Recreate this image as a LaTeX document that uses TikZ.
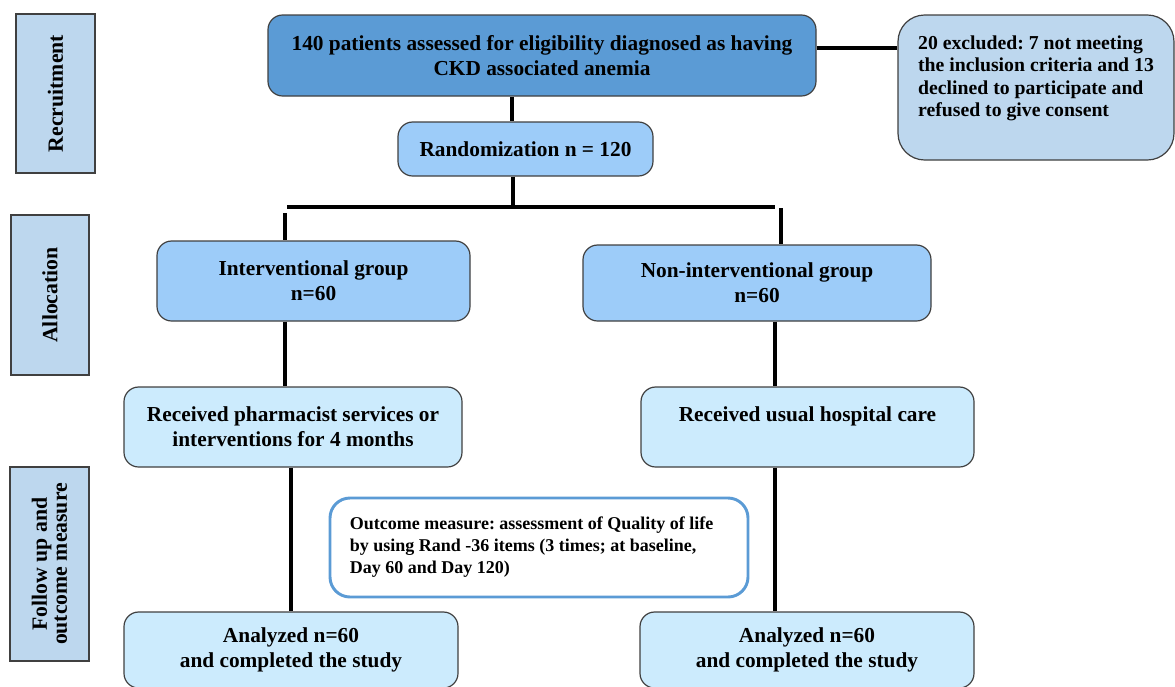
\documentclass[tikz,border=0pt]{standalone}
\usepackage{fontspec}
\setmainfont{Liberation Serif}
\usetikzlibrary{positioning}
\frenchspacing

\definecolor{phasefill}{HTML}{BDD7EE}
\definecolor{headfill}{HTML}{5B9BD5}
\definecolor{groupfill}{HTML}{9DCCF9}
\definecolor{carefill}{HTML}{CCEBFD}
\definecolor{edgegray}{HTML}{404040}
\definecolor{outline}{HTML}{5B9BD5}

\begin{document}
\begin{tikzpicture}[
    x=0.75pt, y=-0.75pt,
    phase/.style={rectangle, draw=edgegray, line width=0.9pt, fill=phasefill, rotate=90, align=center, font=\fontsize{16.3}{15}\selectfont\bfseries},
    headbox/.style={rectangle, draw=edgegray, line width=0.9pt, fill=headfill, rounded corners=11pt, align=center, font=\fontsize{16}{18.75}\selectfont\bfseries},
    exclbox/.style={rectangle, draw=edgegray, line width=0.9pt, fill=phasefill, rounded corners=20pt, align=left, font=\fontsize{14.8}{16.9}\selectfont\bfseries},
    groupbox/.style={rectangle, draw=edgegray, line width=0.9pt, fill=groupfill, rounded corners=11pt, align=center, font=\fontsize{16}{18.75}\selectfont\bfseries},
    carebox/.style={rectangle, draw=edgegray, line width=0.9pt, fill=carefill, rounded corners=11pt, align=center, font=\fontsize{16}{18.75}\selectfont\bfseries},
    outbox/.style={rectangle, draw=outline, line width=2.2pt, fill=white, rounded corners=15pt, align=left, font=\fontsize{13.5}{16.5}\selectfont\bfseries},
    link/.style={line width=2.5pt, black}
]

\clip (0,0) rectangle (1175,686);

% Phase labels
\node[phase, minimum width=119.25pt, minimum height=59.25pt] (recruit) at (55.5,93.5) {Recruitment};
\node[phase, minimum width=120pt, minimum height=58.5pt] (alloc) at (50,295) {Allocation};
\node[phase, minimum width=145.5pt, minimum height=59.25pt] (follow) at (49.5,564) {Follow up and\\outcome measure};

% Recruitment
\node[headbox, minimum width=411pt, minimum height=60.75pt] (assess) at (542,55.5) {140 patients assessed for eligibility diagnosed as having\\CKD associated anemia};
\node[exclbox, minimum width=207pt, minimum height=108.75pt] (excl) at (1036,87.5) {20 excluded: 7 not meeting\\the inclusion criteria and 13\\declined to participate and\\refused to give consent\\\mbox{}};
\node[groupbox, minimum width=191.25pt, minimum height=40.5pt] (rand) at (525.5,149) {Randomization n = 120};

% Allocation
\node[groupbox, minimum width=234.75pt, minimum height=60pt] (interv) at (313.5,281) {Interventional group\\n=60};
\node[groupbox, minimum width=261pt, minimum height=57pt] (noninterv) at (757,283) {Non-interventional group\\n=60};
\node[carebox, minimum width=253.5pt, minimum height=60pt] (pharm) at (293,427) {Received pharmacist services or\\interventions for 4 months};
\node[carebox, minimum width=249.75pt, minimum height=60pt] (usual) at (807.5,427) {Received usual hospital care\\\mbox{}};

% Follow up
\node[outbox, minimum width=313.5pt, minimum height=74.25pt] (outcome) at (539,547.5) {Outcome measure: assessment of Quality of life\hspace*{11pt}\\by using Rand -36 items (3 times; at baseline,\\Day 60 and Day 120)};
\node[carebox, minimum width=250.5pt, minimum height=57pt] (doneL) at (291,650) {Analyzed n=60\\and completed the study};
\node[carebox, minimum width=250.5pt, minimum height=57pt] (doneR) at (807,650) {Analyzed n=60\\and completed the study};

% Connectors
\coordinate (hub) at (513,207);
\coordinate (splitL) at (287,207);
\coordinate (splitR) at (775,207);
\coordinate (dropL) at (285,213);
\coordinate (dropR) at (781,208);
\coordinate (tailL) at (291,470);

\draw[link] ([yshift=5.6pt]assess.east) -- ([yshift=5.6pt]assess.east -| excl.west);
\draw[link] ([xshift=-22.5pt]assess.south) -- ([xshift=-22.5pt]assess.south |- rand.north);
\draw[link] (rand.south -| hub) -- (hub);
\draw[link] (splitL) -- (splitR);
\draw[link] (dropL) -- (dropL |- interv.north);
\draw[link] (dropR) -- (dropR |- noninterv.north);
\draw[link] (dropL |- interv.south) -- (dropL |- pharm.north);
\draw[link] (splitR |- noninterv.south) -- (splitR |- usual.north);
\draw[link] (tailL |- pharm.south) -- (tailL |- doneL.north);
\draw[link] (splitR |- usual.south) -- (splitR |- doneR.north);

\end{tikzpicture}
\end{document}
